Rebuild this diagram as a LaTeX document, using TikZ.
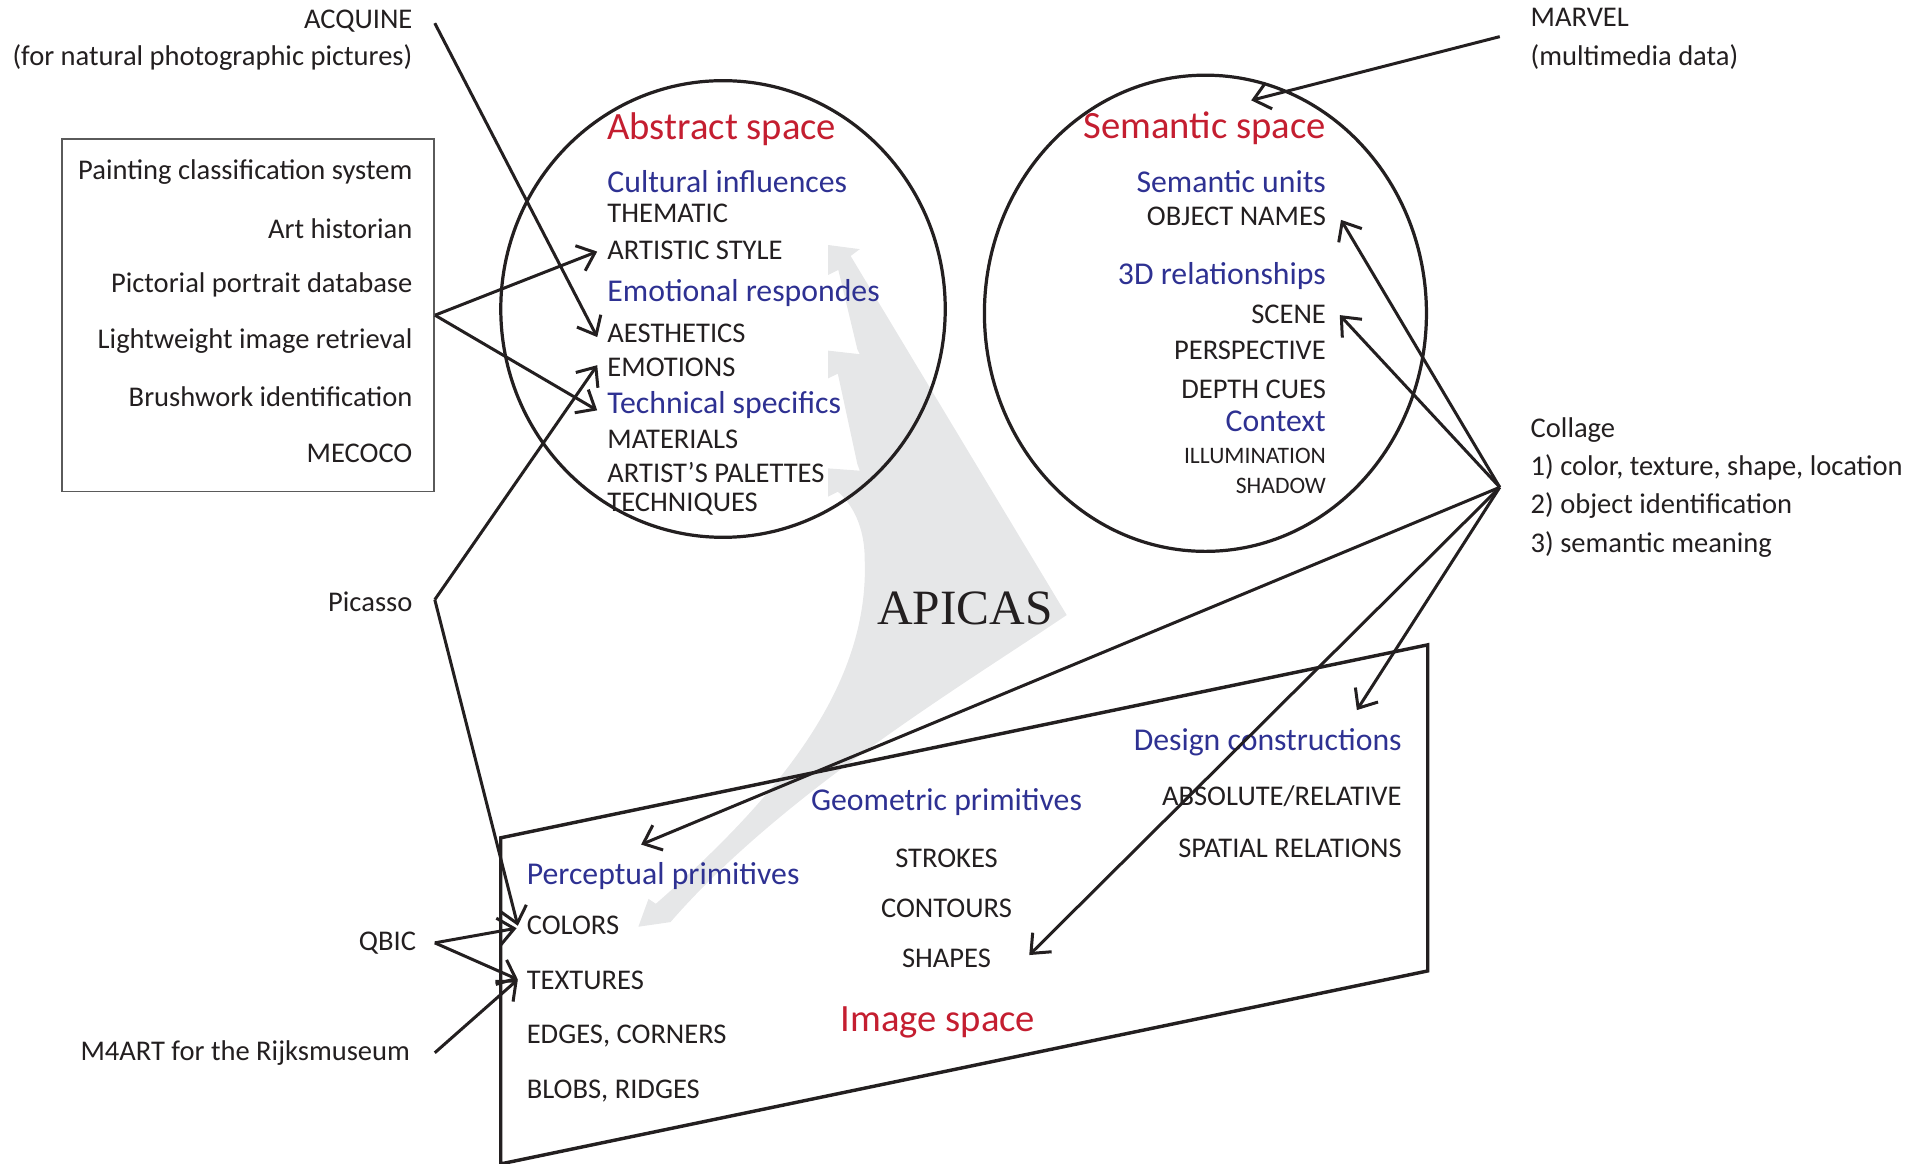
\documentclass[tikz,border=0pt]{standalone}
\usepackage{fontspec}
\setmainfont{Carlito}
\newfontfamily\apicasfont{Liberation Serif}
\usetikzlibrary{arrows.meta,shapes.geometric}
\definecolor{spacered}{RGB}{196,30,48}
\definecolor{headblue}{RGB}{46,49,146}
\definecolor{ink}{RGB}{35,31,32}
\definecolor{flowgray}{RGB}{230,231,232}
\definecolor{boxgray}{RGB}{90,90,90}
\tikzset{
  item/.style={inner sep=0pt, text=ink, font=\fontsize{13.3}{16}\selectfont},
  smallitem/.style={item, font=\fontsize{11}{13}\selectfont},
  head/.style={inner sep=0pt, text=headblue, font=\fontsize{14.8}{17}\selectfont},
  spacetitle/.style={inner sep=0pt, text=spacered, font=\fontsize{18}{21}\selectfont},
  apicas/.style={inner sep=0pt, text=ink, font=\apicasfont\fontsize{23}{26}\selectfont},
  space/.style={draw=ink, line width=1.5pt},
  link/.style={draw=ink, line width=1.4pt, -{Straight Barb[length=2.6mm,width=4.4mm]}},
}
\begin{document}
\begin{tikzpicture}[x=0.02cm,y=-0.02cm]
  \useasboundingbox (0,0) rectangle (1568,953);

  % grey flow behind everything
  \fill[flowgray] (678,200.6) -- (704,204) -- (696.5,209.6) -- (873.4,503.6)
    .. controls (790,560) and (640,650) .. (549,755)
    -- (522.7,758.8) -- (531,736) -- (537,740)
    .. controls (640,650) and (712,560) .. (708,458)
    .. controls (708,430) and (697,412) .. (686,402.6)
    -- (678,406.7) -- (678,383.5) -- (704,385.4) -- (702,380)
    -- (686,306) -- (678,309.8) -- (678,287.1) -- (704,290) -- (702,286)
    -- (686.4,221) -- (678,225.2) -- cycle;
  \node[apicas] (apicas) at (790,498) {APICAS};

  % abstract space
  \node[space, ellipse, minimum width=7.28cm, minimum height=7.48cm] (abstract) at (592,253) {};
  \def\absText#1#2#3#4{\node[#1, anchor=west] (#2) at (497,#3) {#4};}
  \absText{spacetitle}{absTitle}{106}{Abstract space}
  \absText{head}{cultural}{149}{Cultural influences}
  \absText{item}{thematic}{175}{THEMATIC}
  \absText{item}{artStyle}{205}{ARTISTIC STYLE}
  \absText{head}{emotional}{240}{Emotional respondes}
  \absText{item}{aesth}{273}{AESTHETICS}
  \absText{item}{emotions}{301}{EMOTIONS}
  \absText{head}{techSpec}{332}{Technical specifics}
  \absText{item}{materials}{360}{MATERIALS}
  \absText{item}{palettes}{387}{ARTIST’S PALETTES}
  \absText{item}{techniques}{413}{TECHNIQUES}

  % semantic space
  \node[space, ellipse, minimum width=7.24cm, minimum height=7.8cm] (semantic) at (987,256.5) {};
  \def\semText#1#2#3#4{\node[#1, anchor=east] (#2) at (1086,#3) {#4};}
  \semText{spacetitle}{semTitle}{105}{Semantic space}
  \semText{head}{semUnits}{149}{Semantic units}
  \semText{item}{objNames}{177}{OBJECT NAMES}
  \semText{head}{relations}{226}{3D relationships}
  \semText{item}{scene}{257}{SCENE}
  \semText{item}{perspective}{287}{PERSPECTIVE}
  \semText{item}{depth}{319}{DEPTH CUES}
  \semText{head}{context}{345}{Context}
  \semText{smallitem}{illum}{373}{ILLUMINATION}
  \semText{smallitem}{shadow}{398}{SHADOW}

  % image space
  \draw[space, line width=1.6pt] (410,686) -- (1169,528) -- (1169,795) -- (410,953) -- cycle;
  \node[head, anchor=west] (percep) at (431,717) {Perceptual primitives};
  \node[item, anchor=west] (colors) at (431,758) {COLORS};
  \node[item, anchor=west] (textures) at (431,803) {TEXTURES};
  \node[item, anchor=west] (edges) at (431,848) {EDGES, CORNERS};
  \node[item, anchor=west] (blobs) at (431,893) {BLOBS, RIDGES};
  \node[head] (geometric) at (775,657) {Geometric primitives};
  \node[item] (strokes) at (775,703) {STROKES};
  \node[item] (contours) at (775,744) {CONTOURS};
  \node[item] (shapes) at (775,785) {SHAPES};
  \node[head, anchor=east] (design) at (1148,608) {Design constructions};
  \node[item, anchor=east] (absRel) at (1148,652) {ABSOLUTE/RELATIVE};
  \node[item, anchor=east] (spatial) at (1148,695) {SPATIAL RELATIONS};
  \node[spacetitle] (imgTitle) at (768,837) {Image space};

  % systems on the left
  \node[item, align=right, anchor=east, font=\fontsize{13.3}{17}\selectfont] (acquine) at (338,33)
    {ACQUINE\\(for natural photographic pictures)};
  \node[draw=boxgray, line width=0.7pt, inner sep=0pt, minimum width=6.1cm, minimum height=5.78cm,
    anchor=north west] (tools) at (50,113) {};
  \foreach \txt [count=\i] in {Painting classification system, Art historian,
      Pictorial portrait database, Lightweight image retrieval, Brushwork identification, MECOCO}{
    \node[item, anchor=east] (tool\i) at (338,95+46*\i) {\txt};
  }
  \node[item, anchor=east] (picasso) at (338,493) {Picasso};
  \node[item, anchor=east] (qbic) at (341,772) {QBIC};
  \node[item, anchor=east] (m4art) at (336,862) {M4ART for the Rijksmuseum};

  % systems on the right
  \node[item, align=left, anchor=west, font=\fontsize{13.3}{18.2}\selectfont] (marvel) at (1253,32)
    {MARVEL\\(multimedia data)};
  \node[item, align=left, anchor=west, font=\fontsize{13.3}{17.8}\selectfont] (collage) at (1253,399)
    {Collage\\1) color, texture, shape, location\\2) object identification\\3) semantic meaning};

  % connectors
  \coordinate (acqOut) at ([shift={(18,-14)}]acquine.east);
  \draw[link] (acqOut) -- ([shift={(-8,3)}]aesth.west);
  \draw[link] (tools.east) -- ([shift={(-8,1)}]artStyle.west);
  \draw[link] (tools.east) -- ([shift={(-8,4)}]techSpec.west);
  \coordinate (picassoOut) at ([shift={(18,-2)}]picasso.east);
  \draw[link] (picassoOut) -- ([shift={(-8,-2)}]emotions.west);
  \draw[link] (picassoOut) -- ([shift={(-7,0)}]colors.west);
  \coordinate (qbicOut) at ([shift={(15,0)}]qbic.east);
  \draw[link] (qbicOut) -- ([shift={(-8,2)}]colors.west);
  \draw[link] (qbicOut) -- ([shift={(-7,-1)}]textures.west);
  \coordinate (m4artOut) at ([shift={(20,0)}]m4art.east);
  \draw[link] (m4artOut) -- ([shift={(-7,-1)}]textures.west);
  \coordinate (marvelOut) at ([shift={(-25,-2)}]marvel.west);
  \draw[link] (marvelOut) -- ([shift={(38,-9)}]semTitle.north);
  \coordinate (collageHub) at ([shift={(-25,0)}]collage.west);
  \foreach \target/\dx/\dy in {objNames.east/12/3, scene.east/11/1, percep.north/-18/-14,
      shapes.east/31/-3, design.north east/-37/-15}
    \draw[link] (collageHub) -- ([shift={(\dx,\dy)}]\target);
\end{tikzpicture}
\end{document}
